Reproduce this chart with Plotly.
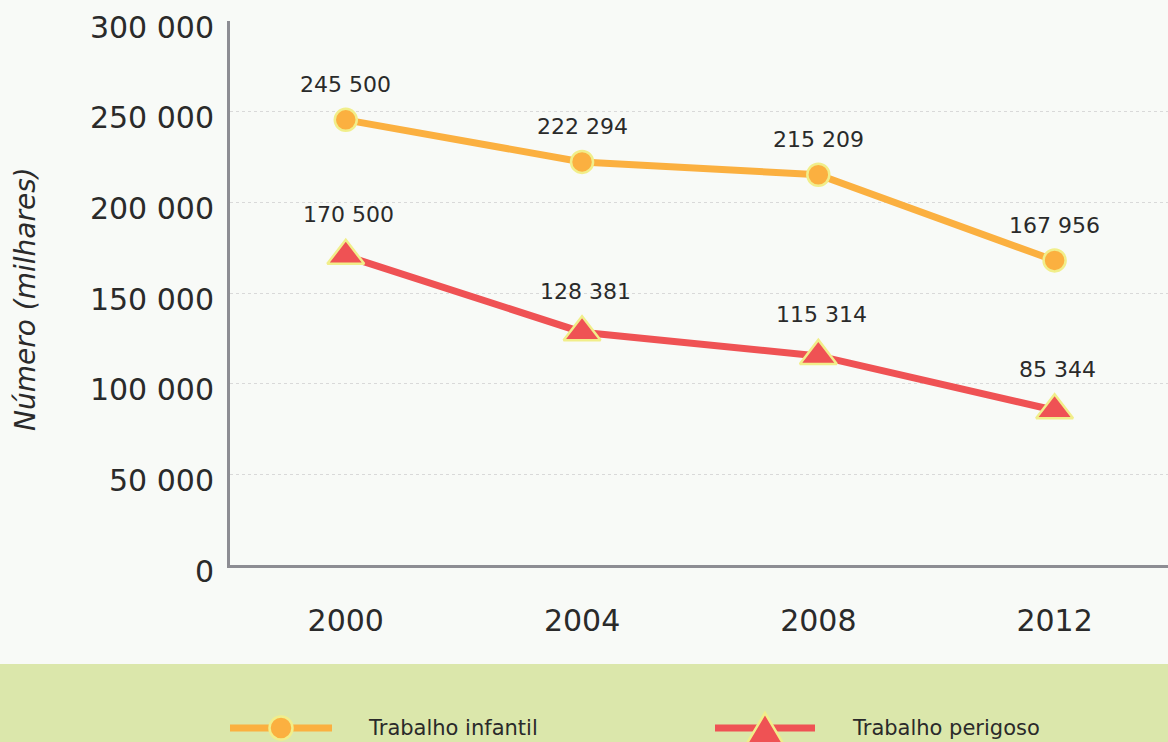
import plotly.graph_objects as go

years = [2000, 2004, 2008, 2012]
trabalho_infantil = [245500, 222294, 215209, 167956]
trabalho_perigoso = [170500, 128381, 115314, 85344]
y_ticks = [0, 50000, 100000, 150000, 200000, 250000, 300000]
y_ticktext = ["0", "50 000", "100 000", "150 000", "200 000", "250 000", "300 000"]
series_names = ["Trabalho infantil", "Trabalho perigoso"]

ORANGE = "#fbb040"
RED = "#ef5254"
EDGE = "#f1ee8a"
BG = "#f8faf7"
TXT = "#2a2a2a"
FONT = "DejaVu Sans"

# plot area in pixels
L, R, T, B = 230, 1168, 21, 565


def px(x):
    return (x - L) / (R - L)


def py(y):
    return (B - y) / (B - T)


def fmt(v):
    return f"{v:,}".replace(",", " ")


fig = go.Figure()
fig.add_trace(go.Scatter(
    x=years, y=trabalho_infantil, name=series_names[0],
    mode="lines+markers",
    line=dict(color=ORANGE, width=7),
    marker=dict(symbol="circle", size=22, color=ORANGE, line=dict(color=EDGE, width=2.5)),
))
fig.add_trace(go.Scatter(
    x=years, y=trabalho_perigoso, name=series_names[1],
    mode="lines+markers",
    line=dict(color=RED, width=7),
    marker=dict(symbol="triangle-up", size=32, color=RED, line=dict(color=EDGE, width=2.5)),
))

annotations = []
for x, v in zip(years, trabalho_infantil):
    annotations.append(dict(x=x, y=v, text=fmt(v), showarrow=False, yshift=35,
                            font=dict(family=FONT, size=22, color=TXT)))
for x, v in zip(years, trabalho_perigoso):
    annotations.append(dict(x=x, y=v, text=fmt(v), showarrow=False, yshift=41, xshift=3,
                            font=dict(family=FONT, size=22, color=TXT)))
annotations.append(dict(xref="paper", yref="paper", x=px(25), y=py(299),
                        text="<i>Número (milhares)</i>", textangle=-90, showarrow=False,
                        xanchor="center", yanchor="middle",
                        font=dict(family=FONT, size=28, color=TXT)))
# legend texts
annotations.append(dict(xref="paper", yref="paper", x=px(366), y=py(728), text=series_names[0],
                        showarrow=False, xanchor="left", yanchor="middle",
                        font=dict(family=FONT, size=21, color=TXT)))
annotations.append(dict(xref="paper", yref="paper", x=px(850), y=py(728), text=series_names[1],
                        showarrow=False, xanchor="left", yanchor="middle",
                        font=dict(family=FONT, size=21, color=TXT)))

shapes = [
    dict(type="rect", xref="paper", yref="paper", x0=px(-20), x1=px(1190), y0=py(664), y1=py(760),
         fillcolor="#dbe7ab", line=dict(width=0), layer="below"),
    # legend sample: Trabalho infantil
    dict(type="line", xref="paper", yref="paper", x0=px(230), x1=px(332), y0=py(728), y1=py(728),
         line=dict(color=ORANGE, width=7)),
    dict(type="circle", xref="paper", yref="paper", x0=px(269.5), x1=px(292.5), y0=py(716.5), y1=py(739.5),
         fillcolor=ORANGE, line=dict(color=EDGE, width=2.5)),
    # legend sample: Trabalho perigoso
    dict(type="line", xref="paper", yref="paper", x0=px(715), x1=px(815), y0=py(728), y1=py(728),
         line=dict(color=RED, width=7)),
    dict(type="path", xref="paper", yref="paper",
         path=f"M {px(746)},{py(745)} L {px(784)},{py(745)} L {px(765)},{py(713)} Z",
         fillcolor=RED, line=dict(color=EDGE, width=2.5)),
]

fig.update_layout(
    width=1168, height=742,
    margin=dict(l=L, r=1168 - R, t=T, b=742 - B),
    paper_bgcolor=BG, plot_bgcolor=BG,
    font=dict(family=FONT, color=TXT),
    showlegend=False,
    annotations=annotations,
    shapes=shapes,
    xaxis=dict(range=[1998.04, 2013.92], tickvals=years, ticktext=[str(y) for y in years],
               showgrid=False, zeroline=False, showline=True, linecolor="#8d8d93", linewidth=3,
               ticks="", ticklabelstandoff=27, tickfont=dict(family=FONT, size=30, color=TXT)),
    yaxis=dict(range=[0, 300000], tickvals=y_ticks, ticktext=y_ticktext,
               showgrid=True, gridcolor="#d9d9d9", griddash="3px,3px", gridwidth=1,
               zeroline=False, showline=True, linecolor="#8d8d93", linewidth=3,
               ticks="", ticklabelstandoff=7, ticklabelshift=6, ticklabeloverflow="allow",
               tickfont=dict(family=FONT, size=30, color=TXT)),
)

fig.write_html("out.html", config={"displayModeBar": False},
               post_script="document.body.style.margin='0';document.body.style.overflow='hidden';")
